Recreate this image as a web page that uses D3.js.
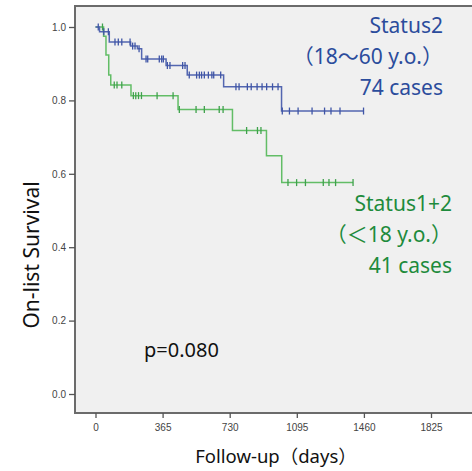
<!DOCTYPE html>
<html>
<head>
<meta charset="utf-8">
<script src="https://cdn.jsdelivr.net/npm/d3@7"></script>
<style>
  body { margin: 0; background: #fff; }
  svg { display: block; }
</style>
</head>
<body>
<svg id="chart" width="472" height="471"></svg>
<script>
// Kaplan-Meier steps
var xTicks = [0, 365, 730, 1095, 1460, 1825];
var yTicks = [0, 0.2, 0.4, 0.6, 0.8, 1.0];

var blueTimes = [0, 22, 75, 191, 228, 251, 384, 499, 697, 1012];
var blueSurv = [1.0, 0.987, 0.959, 0.948, 0.941, 0.913, 0.895, 0.869, 0.837, 0.771];
var blueEnd = 1458;
var blueCensor = [15, 45, 70, 106, 124, 143, 188, 202, 215, 237, 275, 284, 347, 360, 369,
  391, 405, 474, 487, 510, 550, 565, 577, 592, 614, 633, 643, 681, 764, 781, 826, 847,
  879, 906, 931, 963, 993, 1016, 1055, 1102, 1178, 1246, 1281, 1330, 1458];

var greenTimes = [0, 44, 57, 72, 83, 193, 449, 745, 930, 1013];
var greenSurv = [1.0, 0.975, 0.924, 0.869, 0.842, 0.813, 0.775, 0.718, 0.649, 0.576];
var greenEnd = 1401;
var greenCensor = [38, 102, 117, 143, 206, 219, 234, 250, 335, 422, 456, 547, 592, 673, 694,
  822, 881, 900, 1047, 1094, 1142, 1239, 1270, 1306, 1401];

var blueLabel = ["Status2", "（18〜60 y.o.）", "74 cases"];
var greenLabel = ["Status1+2", "（＜18 y.o.）", "41 cases"];

var svg = d3.select("#chart");

var x = d3.scaleLinear().domain([0, 1825]).range([95.5, 431]),
  y = d3.scaleLinear().domain([0, 1]).range([394, 27]);

var frame = { left: 75, top: 6, right: 474, bottom: 413 };

svg.append("rect")
  .attr("x", frame.left)
  .attr("y", frame.top)
  .attr("width", frame.right - frame.left)
  .attr("height", frame.bottom - frame.top)
  .attr("fill", "#f0f0f0")
  .attr("stroke", "#6b6b6b")
  .attr("stroke-width", 2);

// axes
var xAxis = svg.append("g")
  .attr("transform", "translate(0," + frame.bottom + ")")
  .call(d3.axisBottom(x).tickValues(xTicks).tickSize(5).tickPadding(6).tickFormat(d3.format("d")));
var yAxis = svg.append("g")
  .attr("transform", "translate(" + frame.left + ",0)")
  .call(d3.axisLeft(y).tickValues(yTicks).tickSize(6).tickPadding(3).tickFormat(d3.format(".1f")));

[xAxis, yAxis].forEach(function (a) {
  a.select(".domain").remove();
  a.selectAll(".tick line").attr("stroke", "#555").attr("stroke-width", 1.3);
  a.selectAll(".tick text")
    .attr("fill", "#444")
    .style("font-family", "'Liberation Sans', Arial, sans-serif")
    .style("font-size", "10px");
});

// survival curves
function steps(times, surv, end) {
  var pts = times.map(function (t, i) { return [t, surv[i]]; });
  pts.push([end, surv[surv.length - 1]]);
  return pts;
}
function survAt(times, surv, t) {
  var s = surv[0];
  for (var i = 0; i < times.length; i++) {
    if (times[i] <= t) s = surv[i];
  }
  return s;
}

var line = d3.line()
  .x(function (d) { return x(d[0]); })
  .y(function (d) { return y(d[1]); })
  .curve(d3.curveStepAfter);

var groups = [
  { times: greenTimes, surv: greenSurv, end: greenEnd, censor: greenCensor, line: "#62bd66", mark: "#3fa24c" },
  { times: blueTimes, surv: blueSurv, end: blueEnd, censor: blueCensor, line: "#5366b0", mark: "#3f55a6" }
];

groups.forEach(function (g) {
  svg.append("path")
    .datum(steps(g.times, g.surv, g.end))
    .attr("fill", "none")
    .attr("stroke", g.line)
    .attr("stroke-width", 1.5)
    .attr("d", line);

  svg.append("g")
    .selectAll("line")
    .data(g.censor)
    .enter()
    .append("line")
    .attr("x1", function (d) { return x(d); })
    .attr("x2", function (d) { return x(d); })
    .attr("y1", function (d) { return y(survAt(g.times, g.surv, d)) - 3.5; })
    .attr("y2", function (d) { return y(survAt(g.times, g.surv, d)) + 3.5; })
    .attr("stroke", g.mark)
    .attr("stroke-width", 1.3);
});

// labels
var font = "'Noto Sans', 'Noto Sans CJK JP', sans-serif";

function legend(lines, xr, y0, color) {
  svg.append("g")
    .selectAll("text")
    .data(lines)
    .enter()
    .append("text")
    .attr("x", xr)
    .attr("y", function (d, i) { return y0 + i * 31; })
    .attr("text-anchor", "end")
    .attr("fill", color)
    .style("font-family", font)
    .style("font-size", "21px")
    .text(function (d) { return d; });
}
legend(blueLabel, 443, 33, "#2b4c9c");
legend(greenLabel, 452, 211, "#1e8b3c");

svg.append("text")
  .attr("x", 144)
  .attr("y", 357)
  .attr("fill", "#111")
  .style("font-family", font)
  .style("font-size", "20px")
  .text("p=0.080");

svg.append("text")
  .attr("transform", "translate(39,255) rotate(-90)")
  .attr("text-anchor", "middle")
  .attr("fill", "#111")
  .style("font-family", font)
  .style("font-size", "21px")
  .text("On-list Survival");

svg.append("text")
  .attr("x", 276)
  .attr("y", 463)
  .attr("text-anchor", "middle")
  .attr("fill", "#111")
  .style("font-family", font)
  .style("font-size", "18.5px")
  .text("Follow-up（days）");
</script>
</body>
</html>
